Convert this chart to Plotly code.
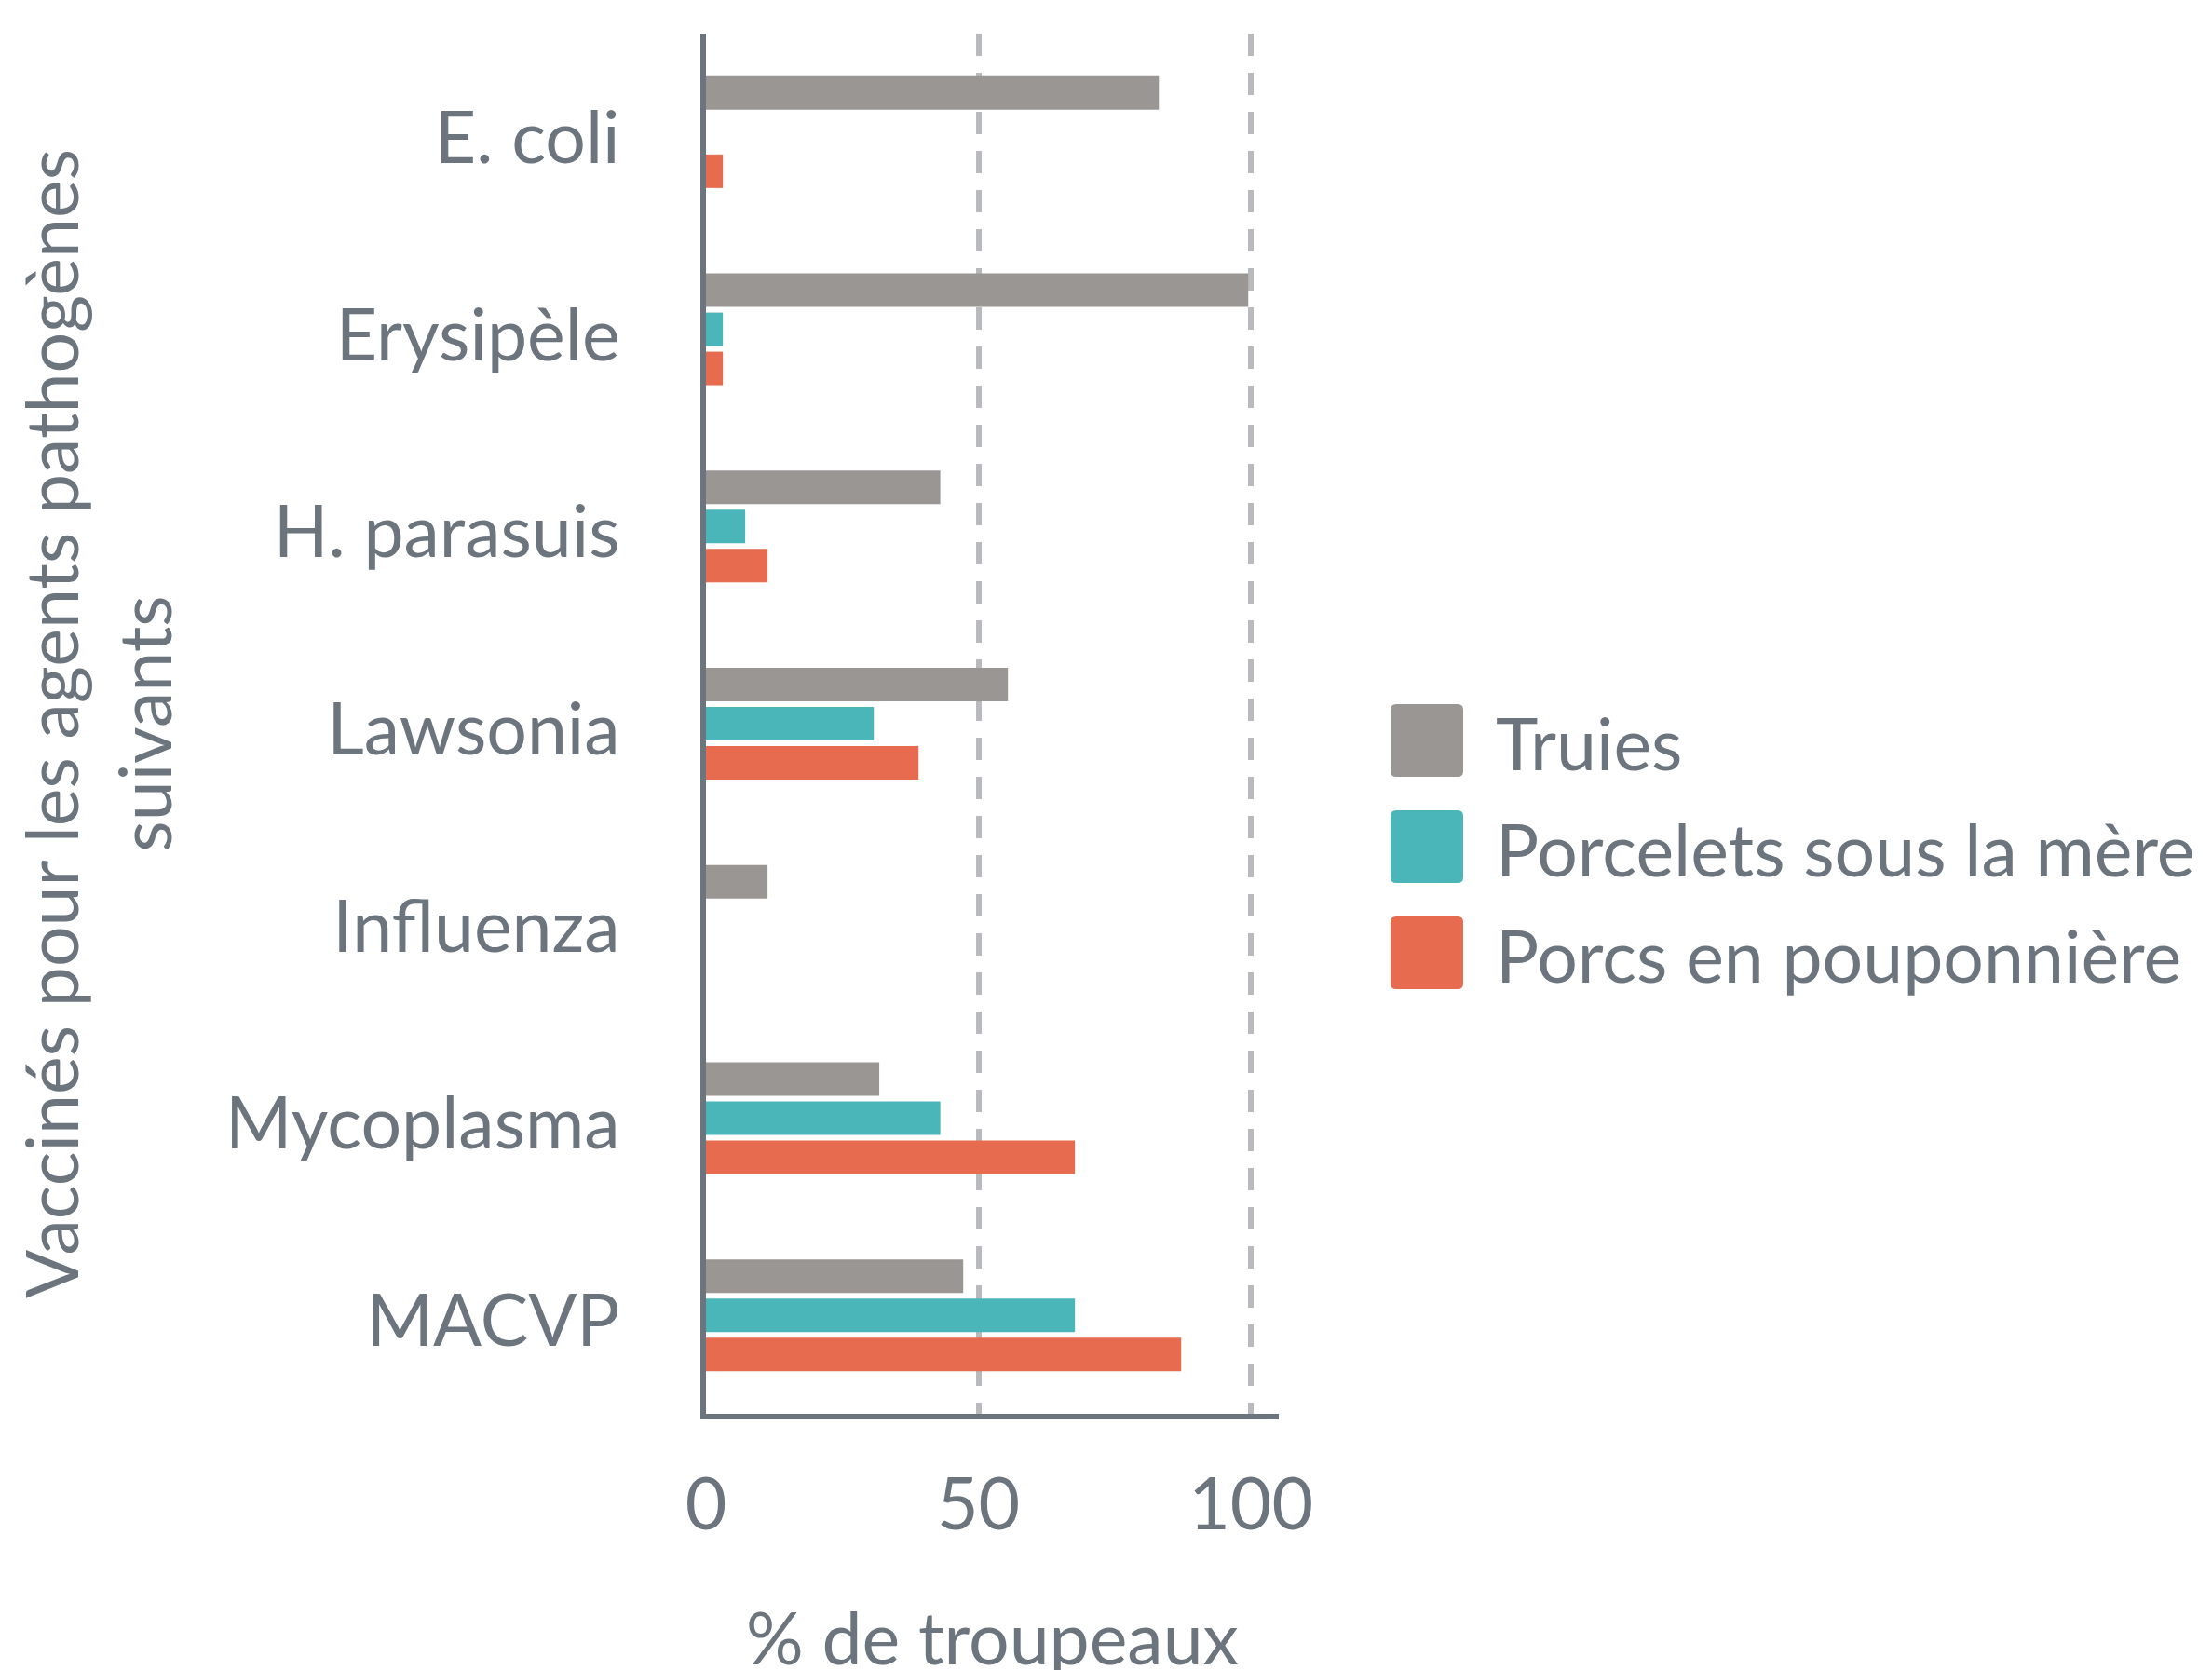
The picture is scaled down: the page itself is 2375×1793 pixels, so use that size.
import plotly.graph_objects as go

categories = ["E. coli", "Erysipèle", "H. parasuis", "Lawsonia", "Influenza", "Mycoplasma", "MACVP"]
series_names = ["Truies", "Porcelets sous la mère", "Porcs en pouponnière"]
truies = [83.1, 99.5, 43.0, 55.4, 11.3, 31.8, 47.2]
porcelets = [None, 3.1, 7.2, 30.8, None, 43.0, 67.7]
porcs = [3.1, 3.1, 11.3, 39.0, None, 67.7, 87.2]
x_ticks = [0, 50, 100]
x_title = "% de troupeaux"
y_title = "Vaccinés pour les agents pathogènes<br>suivants"

colors = ["#9a9694", "#4bb6b9", "#e76c4f"]
text_color = "#6c757d"
font_family = "Lato, 'Open Sans', sans-serif"
FS = 77

OFF = 8  # page body margin
W, H = 2375 - OFF, 1793 - OFF
L = 758 - OFF
T = 36 - OFF
PB = 1518 - OFF
PR = 1373 - OFF
R, B = W - PR, H - PB
PW, PH = PR - L, PB - T

fig = go.Figure()
for name, vals, col in zip(series_names, [truies, porcelets, porcs], colors):
    fig.add_trace(go.Bar(
        name=name, y=categories, x=vals, orientation="h",
        marker=dict(color=col, line=dict(width=0)),
        showlegend=False, hoverinfo="x+y+name",
    ))

def px_x(p):  # page px -> paper
    return (p - OFF - L) / PW

def px_y(p):
    return (PB - (p - OFF)) / PH

# custom legend (large rounded swatches)
shapes = []
annotations = []
sw_x0, sw_x1 = 1493, 1571
centers = [795, 909, 1023]
half = 39
r = 6
for name, col, cy in zip(series_names, colors, centers):
    x0, x1 = px_x(sw_x0), px_x(sw_x1)
    y0, y1 = px_y(cy + half), px_y(cy - half)
    rx, ry = r / PW, r / PH
    path = (f"M{x0+rx},{y0} L{x1-rx},{y0} Q{x1},{y0} {x1},{y0+ry} "
            f"L{x1},{y1-ry} Q{x1},{y1} {x1-rx},{y1} L{x0+rx},{y1} "
            f"Q{x0},{y1} {x0},{y1-ry} L{x0},{y0+ry} Q{x0},{y0} {x0+rx},{y0} Z")
    shapes.append(dict(type="path", xref="paper", yref="paper", path=path,
                       fillcolor=col, line=dict(width=0), layer="above"))
    annotations.append(dict(xref="paper", yref="paper", x=px_x(1604), y=px_y(cy + 2),
                            xanchor="left", yanchor="middle", showarrow=False,
                            text=name, font=dict(family=font_family, size=FS, color=text_color)))

# x-axis title (placed as annotation so it may sit partly beyond the bottom edge, as in the original)
annotations.append(dict(xref="paper", yref="paper", x=0.5, y=px_y(1757),
                        xanchor="center", yanchor="middle", showarrow=False,
                        text=x_title, font=dict(family=font_family, size=FS, color=text_color)))

fig.update_layout(
    width=W, height=H,
    margin=dict(l=L, r=R, t=T, b=B, autoexpand=False),
    paper_bgcolor="white", plot_bgcolor="white",
    barmode="group", bargap=0.405, bargroupgap=0.143,
    font=dict(family=font_family, size=FS, color=text_color),
    shapes=shapes, annotations=annotations,
    showlegend=False,
)
fig.update_xaxes(
    range=[0, 105.1], tickvals=x_ticks, ticktext=[str(v) for v in x_ticks],
    showgrid=True, gridcolor="#b8babd", gridwidth=6, griddash="24px,18px",
    zeroline=False, showline=True, linecolor=text_color, linewidth=6,
    ticks="", ticklabelstandoff=26,
    tickfont=dict(family=font_family, size=FS, color=text_color),
    fixedrange=True,
)
fig.update_yaxes(
    autorange="reversed", categoryorder="array", categoryarray=categories,
    showgrid=False, zeroline=False, showline=True, linecolor=text_color, linewidth=6,
    ticks="", ticklabelstandoff=71, ticklabelshift=-6,
    tickfont=dict(family=font_family, size=FS, color=text_color),
    title=dict(text=y_title, standoff=57, font=dict(family=font_family, size=FS, color=text_color)),
    fixedrange=True,
)

fig.write_html("out.html")
